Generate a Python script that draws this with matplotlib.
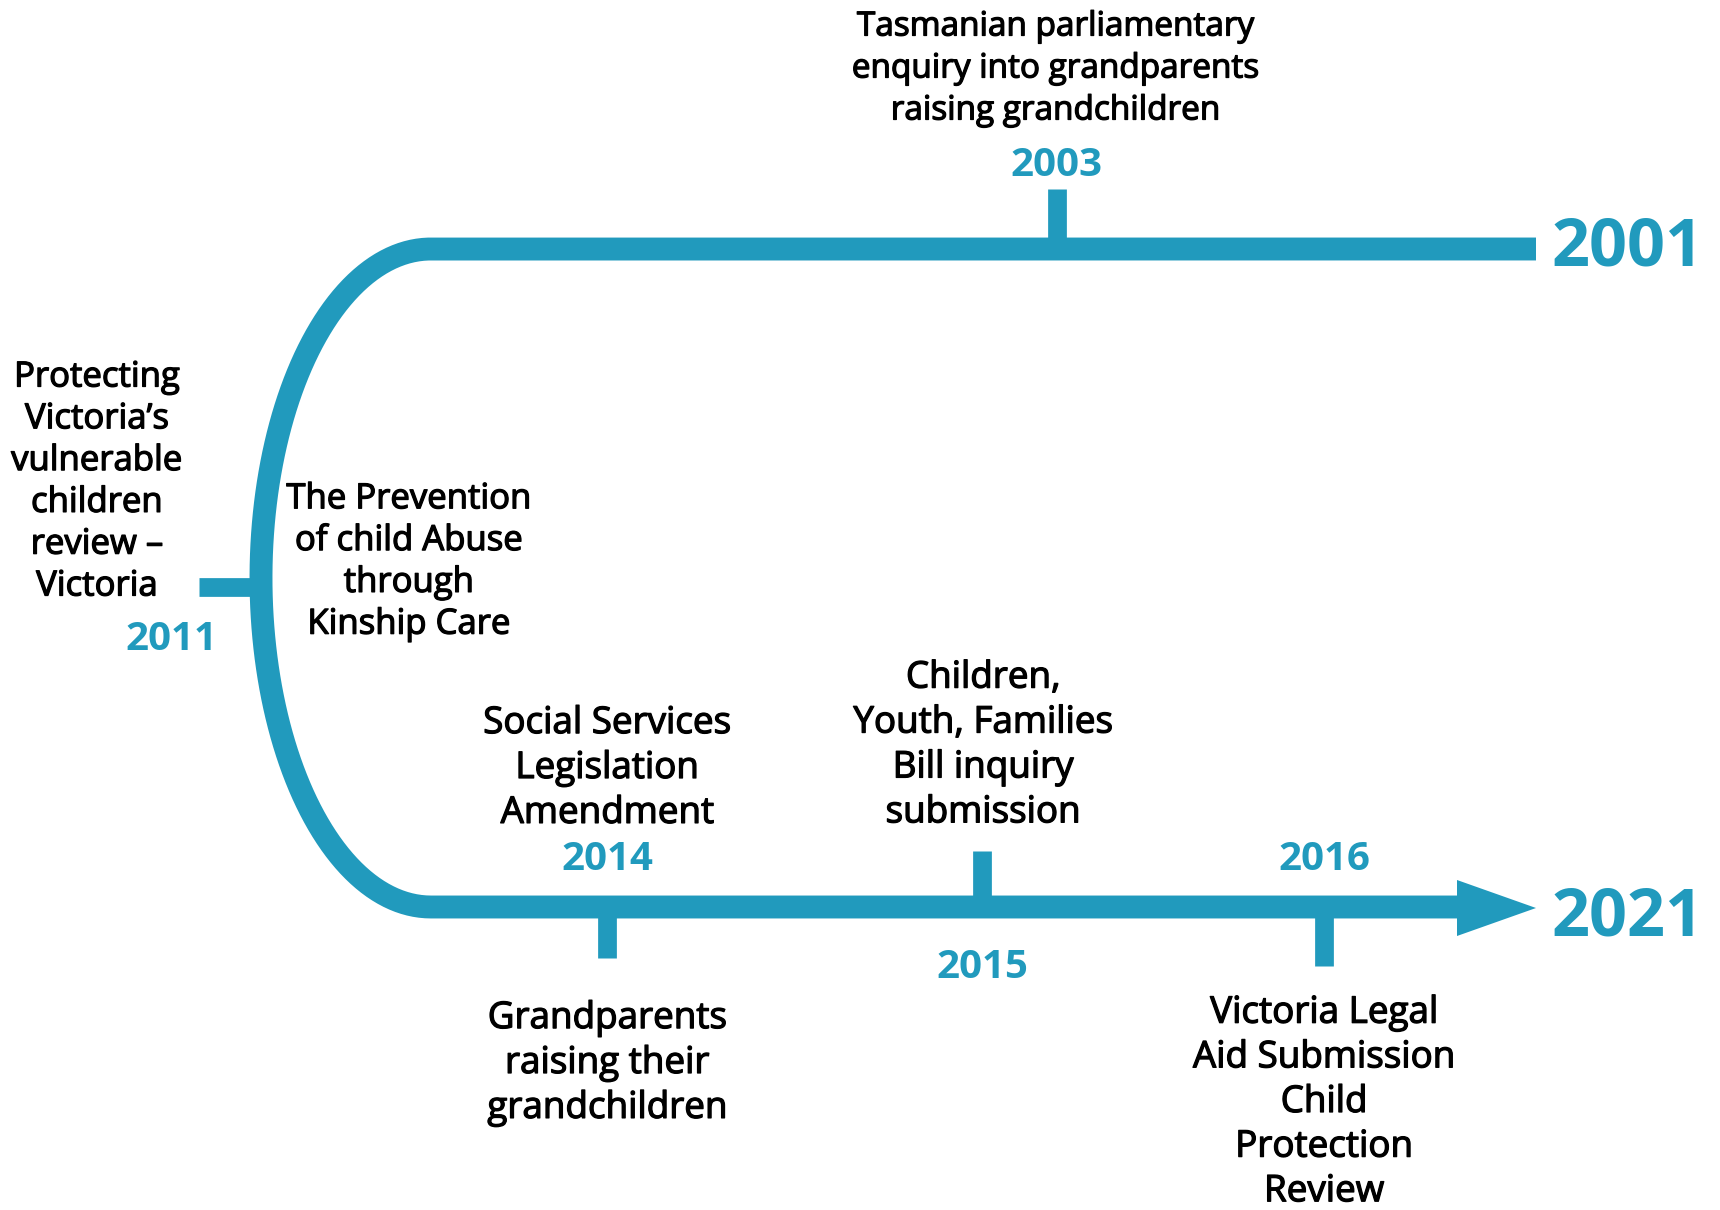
import numpy as np
import matplotlib
matplotlib.use("Agg")
import matplotlib.pyplot as plt
import matplotlib.patheffects as pe
from matplotlib.patches import Polygon

BLUE = "#219abd"

# ── timeline content ─────────────────────────────────────────────────────────
start_year = "2001"
end_year = "2021"

event_years = ["2003", "2011", "2014", "2015", "2016"]
event_labels = [
    "Tasmanian parliamentary\nenquiry into grandparents\nraising grandchildren",
    "Protecting\nVictoria\u2019s\nvulnerable\nchildren\nreview \u2013\nVictoria",
    "Grandparents\nraising their\ngrandchildren",
    "Children,\nYouth, Families\nBill inquiry\nsubmission",
    "Victoria Legal\nAid Submission\nChild\nProtection\nReview",
]
# labels that sit beside the track without their own tick
free_labels = [
    "The Prevention\nof child Abuse\nthrough\nKinship Care",
    "Social Services\nLegislation\nAmendment",
]

# ── layout (pixel space, y down) ─────────────────────────────────────────────
W, H = 1720, 1210
top_y, bot_y = 249, 907
x_right = 1536
arc_cx, arc_rx = 431, 170
arc_cy, arc_ry = (top_y + bot_y) / 2, (bot_y - top_y) / 2

fig = plt.figure(figsize=(W / 100, H / 100), dpi=100)
ax = fig.add_axes([0, 0, 1, 1])
ax.set_xlim(0, W)
ax.set_ylim(H, 0)
ax.axis("off")

# main track: top line -> half ellipse -> bottom line
t = np.linspace(np.pi / 2, 3 * np.pi / 2, 200)
arc_x = arc_cx + arc_rx * np.cos(t)
arc_y = arc_cy - arc_ry * np.sin(t)
track_x = np.concatenate([[x_right], arc_x, [1462]])
track_y = np.concatenate([[top_y], arc_y, [bot_y]])
ax.plot(track_x, track_y, color=BLUE, lw=16.5, solid_capstyle="butt",
        solid_joinstyle="round")
ax.add_patch(Polygon([[1457, 880], [1536, 908], [1457, 936]], closed=True,
                     color=BLUE, lw=0))

# ticks
tick_lw = 13.5
ax.plot([1057, 1057], [189, top_y], color=BLUE, lw=tick_lw, solid_capstyle="butt")
ax.plot([199, 261], [587, 587], color=BLUE, lw=tick_lw, solid_capstyle="butt")
ax.plot([607, 607], [bot_y, 958], color=BLUE, lw=tick_lw, solid_capstyle="butt")
ax.plot([982, 982], [851, bot_y], color=BLUE, lw=tick_lw, solid_capstyle="butt")
ax.plot([1324, 1324], [bot_y, 966], color=BLUE, lw=tick_lw, solid_capstyle="butt")

heavy = [pe.withStroke(linewidth=0.9, foreground="black")]
body = dict(family=["Open Sans", "DejaVu Sans"], color="black",
            ha="center", va="center", path_effects=heavy)
yr = dict(family=["Open Sans", "DejaVu Sans"], weight="bold", fontsize=29,
          color=BLUE, ha="center", va="center")
big = dict(family=["Open Sans", "DejaVu Sans"], weight="bold", fontsize=48,
           color=BLUE, ha="left", va="center")

ax.text(1551, 248, start_year, **big)
ax.text(1551, 918, end_year, **big)

# (x, y, fontsize, linespacing)
label_pos = [(1056, 69, 24, 1.36), (97, 482, 25, 1.30), (607, 1064, 26.5, 1.33),
             (983, 746, 26.5, 1.33), (1324, 1103, 26.5, 1.32)]
year_pos = [(1056, 165), (171, 639), (607, 859), (982, 968), (1324, 859)]
for lab, yr_txt, (lx, ly, fs, ls), (yx, yy) in zip(event_labels, event_years,
                                                    label_pos, year_pos):
    ax.text(lx, ly, lab, fontsize=fs, linespacing=ls, **body)
    ax.text(yx, yy, yr_txt, **yr)

free_pos = [(409, 562, 25, 1.30), (607, 769, 26.5, 1.33)]
for lab, (lx, ly, fs, ls) in zip(free_labels, free_pos):
    ax.text(lx, ly, lab, fontsize=fs, linespacing=ls, **body)

fig.savefig("out.png", dpi=100, facecolor="white")
